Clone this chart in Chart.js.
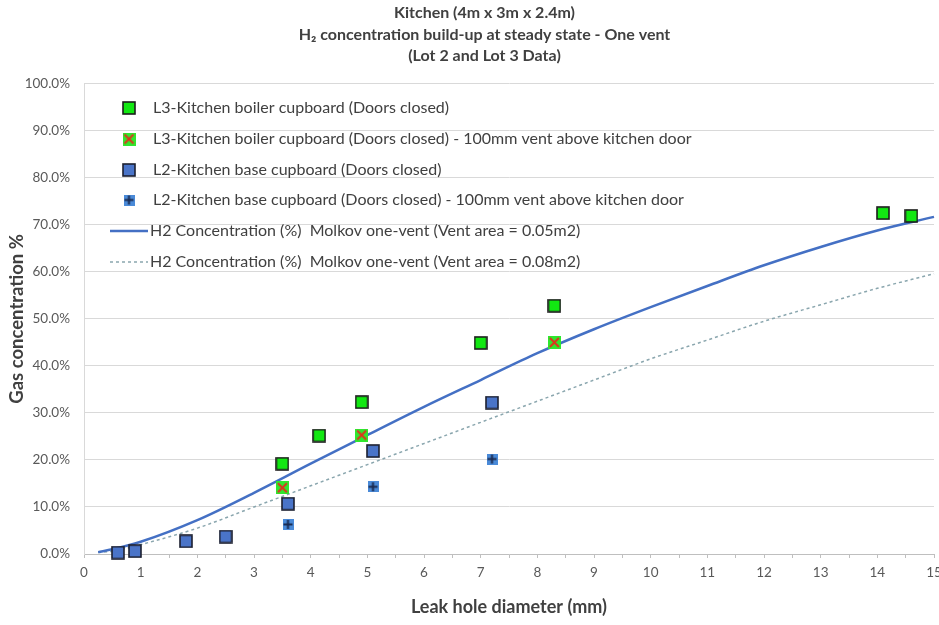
<!DOCTYPE html>
<html>
<head>
<meta charset="utf-8">
<title>Kitchen H2 concentration</title>
<script src="https://cdn.jsdelivr.net/npm/chart.js@4.4.1/dist/chart.umd.min.js"></script>
<style>
  html, body { margin: 0; padding: 0; background: #fff; }
  #wrap { width: 939px; height: 625px; }
</style>
</head>
<body>
<div id="wrap"><canvas id="chart" width="939" height="625"></canvas></div>
<script>
// data (x = leak hole diameter mm, y = gas concentration %)
var l3ClosedX = [3.5, 4.15, 4.9, 7.0, 8.3, 14.1, 14.6];
var l3ClosedY = [19.2, 25.2, 32.3, 44.9, 52.8, 72.5, 71.9];

var l3VentX = [3.5, 4.9, 8.3];
var l3VentY = [14.1, 25.3, 45.0];

var l2ClosedX = [0.6, 0.9, 1.8, 2.5, 3.6, 5.1, 7.2];
var l2ClosedY = [0.3, 0.6, 2.7, 3.7, 10.7, 21.9, 32.2];

var l2VentX = [3.6, 5.1, 7.2];
var l2VentY = [6.3, 14.3, 20.2];

var curveX = [0.25, 0.5, 1, 2, 3, 4, 5, 6, 7, 8, 9, 10, 11, 12, 13, 14, 15];
var molkov005 = [0.4, 1.0, 2.6, 7.2, 13.0, 19.2, 25.3, 31.3, 37.0, 42.7, 47.8, 52.5, 57.0, 61.4, 65.3, 68.8, 71.7];
var molkov008 = [0.3, 0.6, 2.0, 5.5, 10.0, 14.5, 19.0, 23.5, 28.0, 32.5, 37.0, 41.5, 45.5, 49.5, 53.0, 56.5, 59.6];

var seriesNames = [
  "L3-Kitchen boiler cupboard (Doors closed)",
  "L3-Kitchen boiler cupboard (Doors closed) - 100mm vent above kitchen door",
  "L2-Kitchen base cupboard (Doors closed)",
  "L2-Kitchen base cupboard (Doors closed) - 100mm vent above kitchen door",
  "H2 Concentration (%)  Molkov one-vent (Vent area = 0.05m2)",
  "H2 Concentration (%)  Molkov one-vent (Vent area = 0.08m2)"
];

var titleLines = [
  "Kitchen (4m x 3m x 2.4m)",
  "H\u2082 concentration build-up at steady state - One vent",
  "(Lot 2 and Lot 3 Data)"
];

function pts(xs, ys) {
  var out = [];
  for (var i = 0; i < xs.length; i++) out.push({ x: xs[i], y: ys[i] });
  return out;
}

// marker images
function makeMarker(size, draw) {
  var c = document.createElement('canvas');
  c.width = size; c.height = size;
  draw(c.getContext('2d'), size);
  return c;
}
var greenSq = makeMarker(14, function (g, s) {
  g.fillStyle = '#12e812';
  g.fillRect(1, 1, s - 2, s - 2);
  g.strokeStyle = '#1c1c1c';
  g.lineWidth = 1.6;
  g.strokeRect(1, 1, s - 2, s - 2);
});
var greenX = makeMarker(13, function (g, s) {
  g.fillStyle = '#2ee82e';
  g.fillRect(0, 0, s, s);
  g.strokeStyle = '#e0321e';
  g.lineWidth = 2;
  g.beginPath();
  g.moveTo(2, 2); g.lineTo(s - 2, s - 2);
  g.moveTo(s - 2, 2); g.lineTo(2, s - 2);
  g.stroke();
});
var blueSq = makeMarker(14, function (g, s) {
  g.fillStyle = '#4a74c8';
  g.fillRect(1, 1, s - 2, s - 2);
  g.strokeStyle = '#1c2030';
  g.lineWidth = 1.6;
  g.strokeRect(1, 1, s - 2, s - 2);
});
var blueCross = makeMarker(11, function (g, s) {
  g.fillStyle = '#4a8ad8';
  g.fillRect(0, 0, s, s);
  g.strokeStyle = '#1a2a50';
  g.lineWidth = 2;
  g.beginPath();
  g.moveTo(s / 2, 1); g.lineTo(s / 2, s - 1);
  g.moveTo(1, s / 2); g.lineTo(s - 1, s / 2);
  g.stroke();
});

var FONT = "Lato, 'Open Sans', sans-serif";

// legend sits inside the plot, top left, like the original
var insideLegend = {
  id: 'insideLegend',
  afterLayout: function (chart) {
    // centre the title over the plot area rather than the whole canvas
    if (chart.titleBlock) {
      chart.titleBlock.left = 30;
      chart.titleBlock.right = chart.width;
    }
  },
  afterDraw: function (chart) {
    var ctx = chart.ctx;
    var rowY = [108, 139, 170, 200, 231, 262];
    var icons = [greenSq, greenX, blueSq, blueCross];
    ctx.save();
    ctx.font = "16px " + FONT;
    ctx.fillStyle = '#404040';
    ctx.textBaseline = 'middle';
    for (var i = 0; i < seriesNames.length; i++) {
      var y = rowY[i];
      if (i < 4) {
        var im = icons[i];
        ctx.drawImage(im, 129 - im.width / 2, y - im.height / 2);
      } else {
        var ds = chart.data.datasets[i];
        ctx.strokeStyle = ds.borderColor;
        ctx.lineWidth = ds.borderWidth;
        ctx.setLineDash(ds.borderDash || []);
        ctx.beginPath();
        ctx.moveTo(110, y); ctx.lineTo(148, y);
        ctx.stroke();
        ctx.setLineDash([]);
      }
      ctx.fillText(seriesNames[i], i < 4 ? 153 : 150, y);
    }
    ctx.restore();
  }
};

var ctx = document.getElementById('chart').getContext('2d');
var chart = new Chart(ctx, {
  type: 'scatter',
  data: {
    datasets: [
      { label: seriesNames[0], data: pts(l3ClosedX, l3ClosedY), pointStyle: greenSq },
      { label: seriesNames[1], data: pts(l3VentX, l3VentY), pointStyle: greenX },
      { label: seriesNames[2], data: pts(l2ClosedX, l2ClosedY), pointStyle: blueSq },
      { label: seriesNames[3], data: pts(l2VentX, l2VentY), pointStyle: blueCross },
      { label: seriesNames[4], data: pts(curveX, molkov005), showLine: true, pointRadius: 0,
        borderColor: '#4470c4', borderWidth: 2.5, tension: 0.4, cubicInterpolationMode: 'monotone' },
      { label: seriesNames[5], data: pts(curveX, molkov008), showLine: true, pointRadius: 0,
        borderColor: '#8aa6ae', borderWidth: 1.5, borderDash: [3, 3], tension: 0.4, cubicInterpolationMode: 'monotone' }
    ]
  },
  options: {
    responsive: false,
    animation: false,
    clip: false,
    layout: { padding: { left: 0, right: 4, top: 0, bottom: 0 } },
    plugins: {
      legend: { display: false },
      tooltip: { enabled: false },
      title: {
        display: true,
        text: titleLines,
        color: '#404040',
        font: { family: FONT, size: 16, weight: 'bold', lineHeight: 1.35 },
        padding: { top: 2, bottom: 17 }
      }
    },
    scales: {
      x: {
        type: 'linear',
        min: 0, max: 15,
        afterFit: function (s) { s.height = 71; s.paddingLeft = 0; s.paddingRight = 0; },
        border: { color: '#bfbfbf', width: 1 },
        grid: { drawOnChartArea: false, color: '#bfbfbf', tickLength: 4 },
        ticks: {
          stepSize: 0.5, autoSkip: false, maxRotation: 0, padding: 7,
          color: '#595959', font: { family: FONT, size: 13.5 },
          callback: function (v) { return Number.isInteger(v) ? String(v) : ''; }
        },
        title: {
          display: true, text: 'Leak hole diameter (mm)', color: '#404040',
          font: { family: FONT, size: 18, weight: 'bold' }, padding: { top: 0, bottom: 7 }
        }
      },
      y: {
        min: 0, max: 100,
        afterFit: function (s) { s.width = 84; },
        border: { color: '#d9d9d9', width: 1 },
        grid: { color: '#d9d9d9', drawTicks: false },
        ticks: {
          stepSize: 10, padding: 14,
          color: '#595959', font: { family: FONT, size: 13.5 },
          callback: function (v) { return v.toFixed(1) + '%'; }
        },
        title: {
          display: true, text: 'Gas concentration %', color: '#404040',
          font: { family: FONT, size: 18.5, weight: 'bold' }, padding: { top: 6, bottom: 0 }
        }
      }
    }
  },
  plugins: [insideLegend]
});
</script>
</body>
</html>
